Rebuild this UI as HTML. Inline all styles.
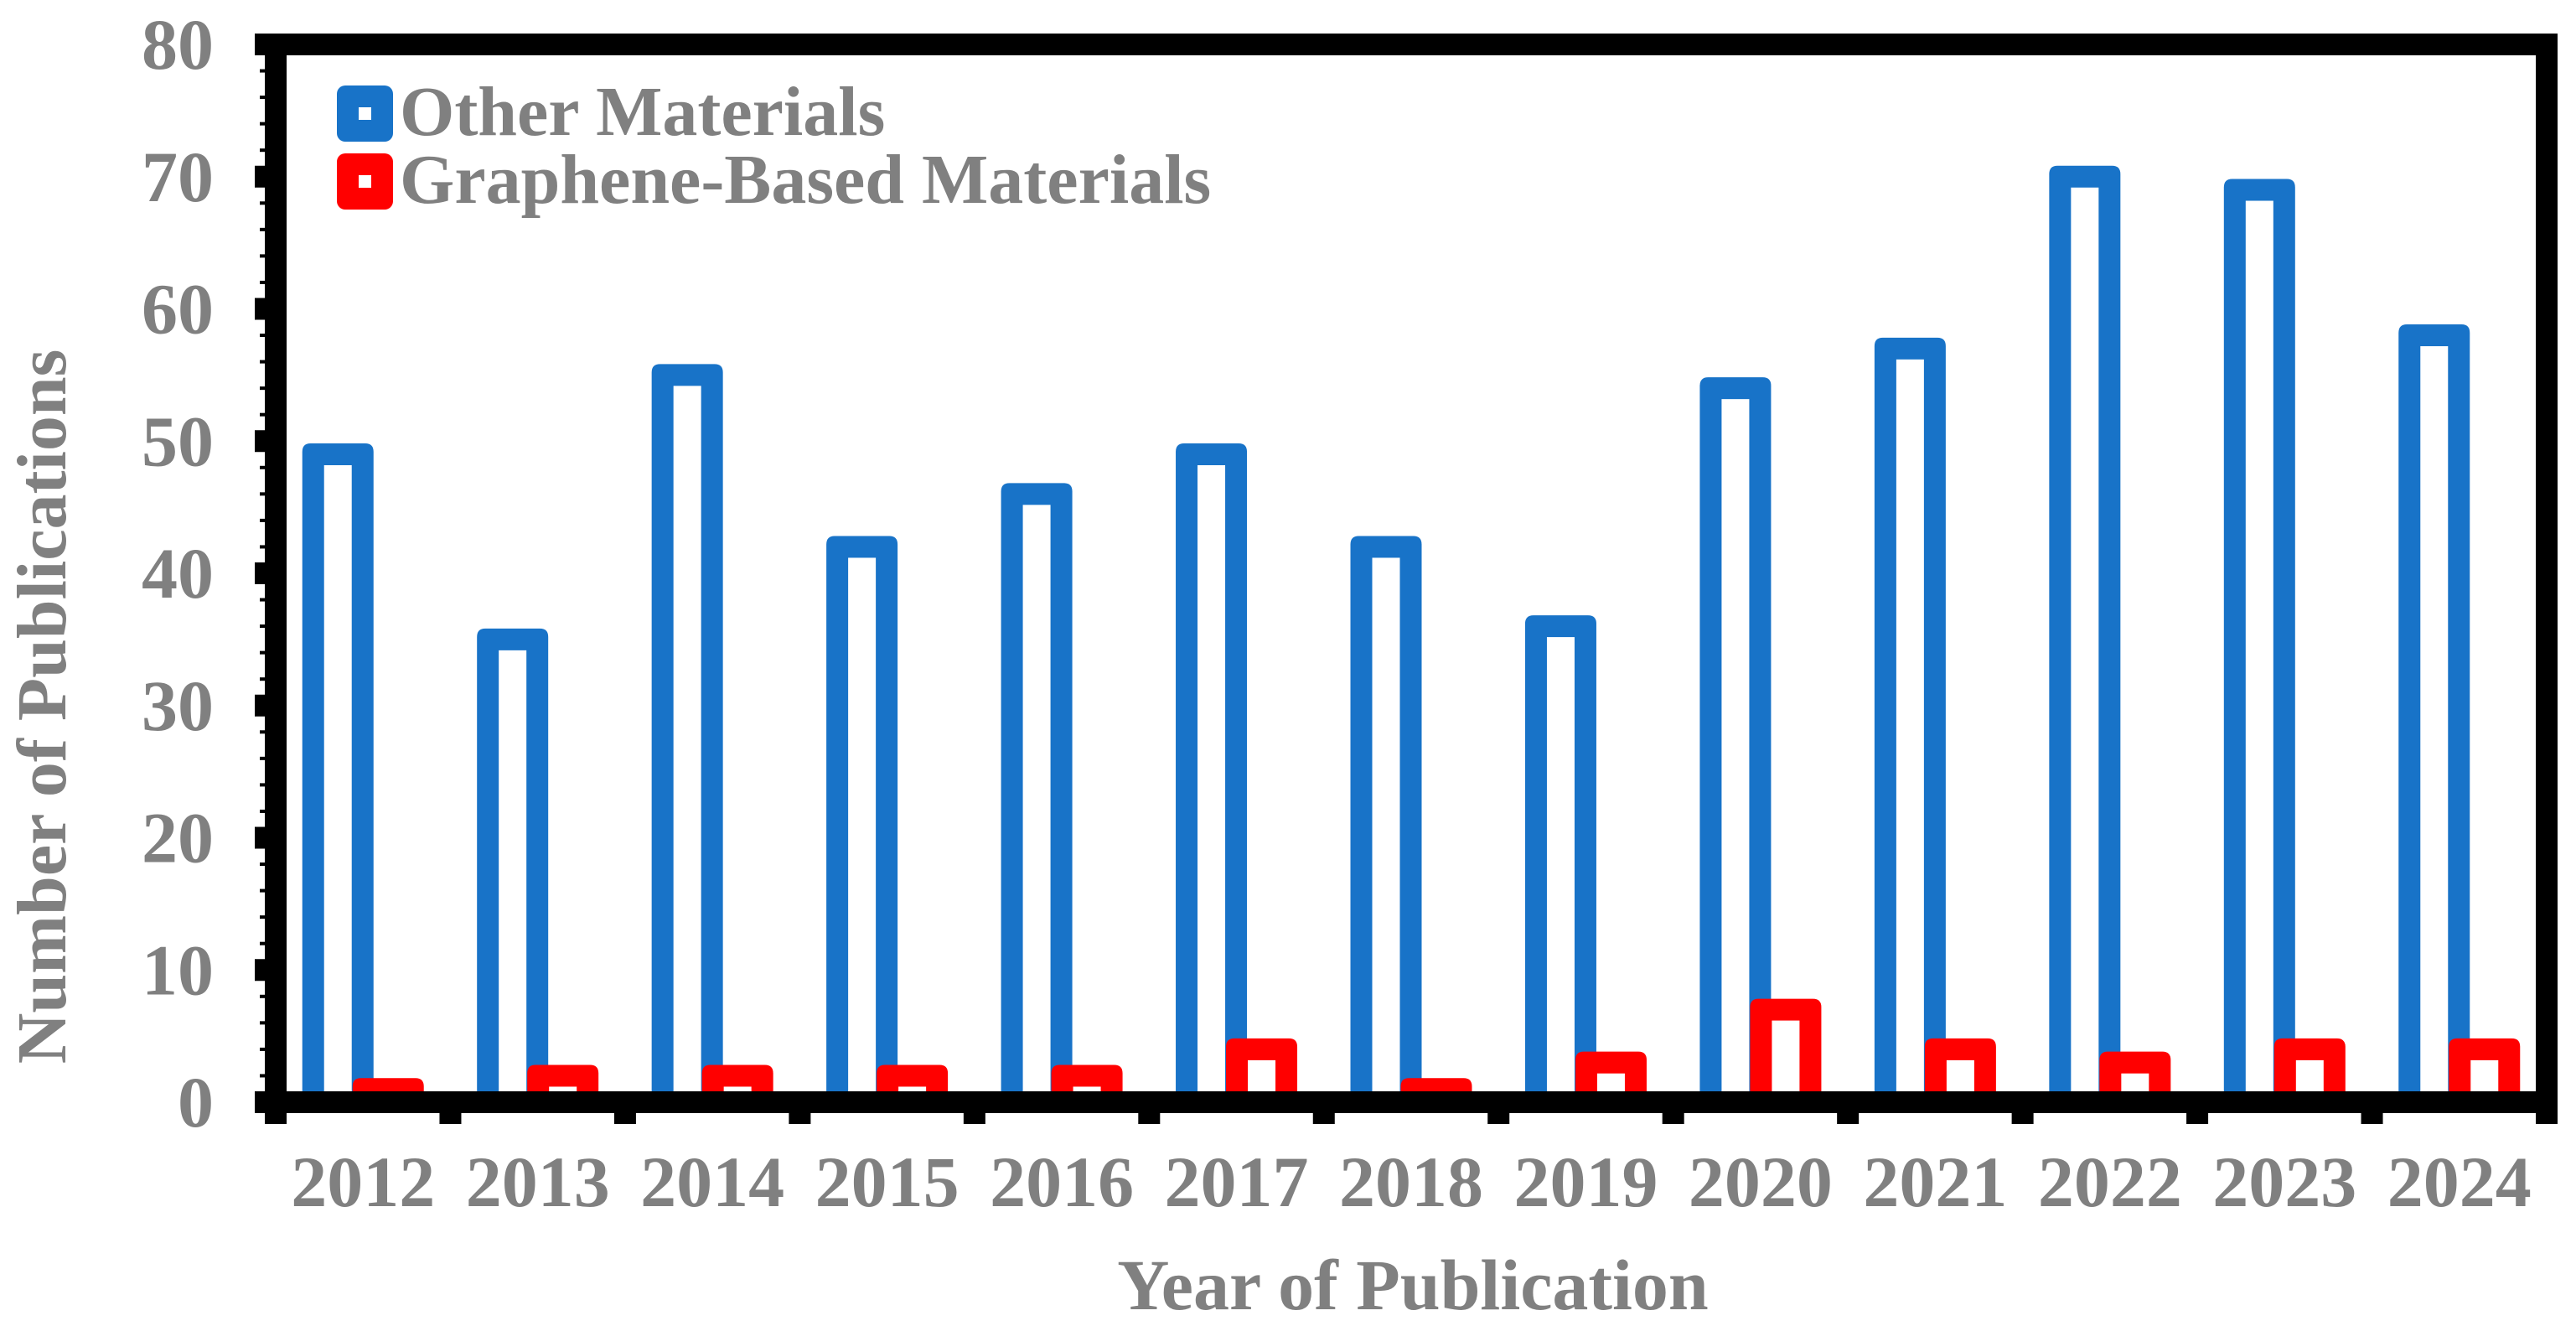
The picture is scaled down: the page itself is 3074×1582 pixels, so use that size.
<!DOCTYPE html>
<html><head><meta charset="utf-8"><style>
html,body{margin:0;padding:0;background:#fff;}
svg{display:block;}
text{font-family:"Liberation Serif","Times New Roman",serif;font-weight:bold;fill:#808080;}
</style></head><body>
<svg id="chart" width="3074" height="1582" viewBox="0 0 3074 1582" xmlns="http://www.w3.org/2000/svg">
<g id="bars"></g>
<g id="axes"></g>
<g id="legend">
  <g>
    <rect x="402" y="102" width="67" height="67" rx="10" fill="#1873C8"/>
    <rect x="428" y="128" width="15" height="15" fill="#fff"/>
    <text x="477" y="161" font-size="84">Other Materials</text>
  </g>
  <g>
    <rect x="402" y="183" width="67" height="67" rx="10" fill="#FF0000"/>
    <rect x="428" y="209" width="15" height="15" fill="#fff"/>
    <text x="477" y="242" font-size="84">Graphene-Based Materials</text>
  </g>
</g>
<text x="1686" y="1562" font-size="86" text-anchor="middle">Year of Publication</text>
<text transform="translate(78,843) rotate(-90)" font-size="84" text-anchor="middle">Number of Publications</text>
</svg>
<script>
const categories = ["2012","2013","2014","2015","2016","2017","2018","2019","2020","2021","2022","2023","2024"];
const otherValues = [49,35,55,42,46,49,42,36,54,57,70,69,58];
const grapheneValues = [1,2,2,2,2,4,1,3,7,4,3,4,4];
const yTicks = [0,10,20,30,40,50,60,70,80];

const NS = "http://www.w3.org/2000/svg";
const L = 329, R = 3039, T = 53, B = 1315, SW = 26;
const yMax = 80;
function y(v){ return B - (B - T) * v / yMax; }
const band = (R - L) / categories.length;
function xc(i){ return L + band * (i + 0.5); }
function mk(tag, attrs, parent){ const e = document.createElementNS(NS, tag); for (const k in attrs) e.setAttribute(k, attrs[k]); parent.appendChild(e); return e; }

const bars = document.getElementById('bars');
const axes = document.getElementById('axes');
const BW = 85;
function drawBar(cx, v, color, name){
  const top = y(v) - SW/2;
  const g = mk('g', {}, bars);
  
  
  mk('path', {d:`M${cx-BW/2},${B} L${cx-BW/2},${top+10} Q${cx-BW/2},${top} ${cx-BW/2+10},${top} L${cx+BW/2-10},${top} Q${cx+BW/2},${top} ${cx+BW/2},${top+10} L${cx+BW/2},${B} Z`, fill:color}, g);
  const ih = B - (top + SW);
  if (ih > 0) mk('rect', {x:cx-BW/2+SW, y:top+SW, width:BW-2*SW, height:ih, fill:'#fff'}, g);
}
categories.forEach((c, i) => {
  drawBar(xc(i) - 30, otherValues[i], '#1873C8', 'bar-other-' + c);
  drawBar(xc(i) + 30, grapheneValues[i], '#FF0000', 'bar-graphene-' + c);
});

const frame = mk('rect', {x:L, y:T, width:R-L, height:B-T, fill:'none', stroke:'#000', 'stroke-width':SW}, axes);


mk('rect', {x:304, y:T-SW/2, width:20, height:SW, fill:'#000'}, axes);

for (let v = 0; v <= yMax; v += 2) {
  if (v % 10 === 0) continue;
  mk('rect', {x:310, y:y(v)-2, width:8, height:4, fill:'#000'}, axes);
}
yTicks.forEach(v => {
  const t = mk('rect', {x:304, y:y(v)-SW/2, width:16, height:SW, fill:'#000'}, axes);
  
  
  const lb = mk('text', {x:255, y:y(v)+29, 'font-size':86, 'text-anchor':'end'}, axes);
  lb.textContent = v;
  
  
});
for (let i = 0; i <= categories.length; i++) {
  const xx = L + band * i;
  mk('rect', {x:xx-SW/2, y:B, width:SW, height:26, fill:'#000'}, axes);
}
categories.forEach((c, i) => {
  const lb = mk('text', {x:xc(i), y:1439, 'font-size':86, 'text-anchor':'middle'}, axes);
  lb.textContent = c;
  
  
});
</script>
</body></html>
